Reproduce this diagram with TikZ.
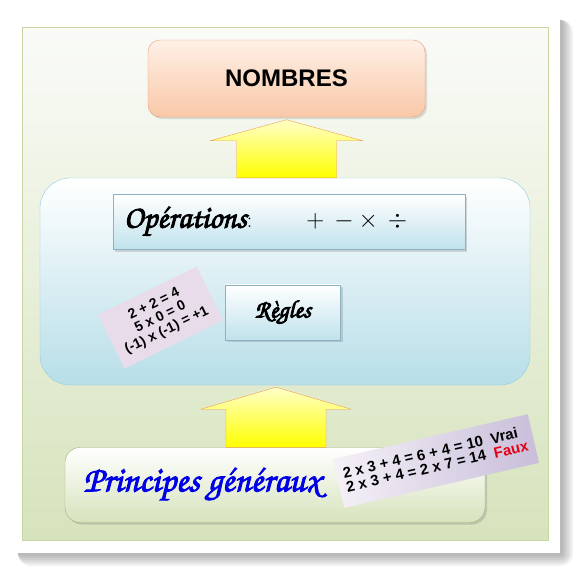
\documentclass[tikz,border=0pt]{standalone}
\usepackage[T1]{fontenc}
\usepackage{fontspec}
\setsansfont{Liberation Sans}
\usetikzlibrary{calc,positioning,shadows}

\definecolor{panneautop}{RGB}{250,251,248}
\definecolor{panneaubot}{RGB}{214,227,188}
\definecolor{panneauline}{RGB}{200,214,160}
\definecolor{nombrestop}{RGB}{254,240,230}
\definecolor{nombresbot}{RGB}{249,200,168}
\definecolor{nombresline}{RGB}{228,160,120}
\definecolor{flechetop}{RGB}{255,255,200}
\definecolor{flechebot}{RGB}{255,255,0}
\definecolor{flecheline}{RGB}{240,160,80}
\definecolor{bleubot}{RGB}{183,222,232}
\definecolor{bleuline}{RGB}{146,205,220}
\definecolor{casebot}{RGB}{192,226,236}
\definecolor{caseline}{RGB}{140,178,194}
\definecolor{vertbot}{RGB}{214,227,188}
\definecolor{vertline}{RGB}{160,176,128}
\definecolor{mauve}{RGB}{232,220,235}
\definecolor{mauvebot}{RGB}{200,190,218}
\definecolor{bleuecrit}{RGB}{0,0,230}
\definecolor{rougefaux}{RGB}{230,0,20}

\newcommand{\chancery}{\fontencoding{T1}\fontfamily{pzc}\fontseries{mb}\fontshape{it}\selectfont}
% heavier strokes for the script titles
\newcommand{\gras}[1]{\special{pdf:literal direct 2 Tr 0.9 w}#1\special{pdf:literal direct 0 Tr 0.4 w}}

\begin{document}
\begin{tikzpicture}[
  x=1pt,y=-1pt,
  carte/.style     ={fill=white,minimum width=550pt,minimum height=541pt},
  panneau/.style   ={draw=panneauline,top color=panneautop,bottom color=panneaubot,
                     minimum width=526pt,minimum height=513pt},
  titre/.style     ={draw=nombresline,rounded corners=12pt,top color=nombrestop,
                     bottom color=nombresbot,minimum width=277pt,minimum height=77pt,
                     font=\sffamily\bfseries\fontsize{24}{28}\selectfont,
                     drop shadow={shadow xshift=2pt,shadow yshift=-2pt,opacity=0.25}},
  bloc/.style      ={draw=bleuline,rounded corners=30pt,top color=white,
                     bottom color=bleubot,minimum width=490pt,minimum height=207pt},
  case/.style      ={draw=caseline,top color=white,bottom color=casebot,
                     minimum height=55pt,
                     drop shadow={shadow xshift=2pt,shadow yshift=-2pt,opacity=0.3}},
  base/.style      ={draw=vertline,rounded corners=15pt,top color=white,
                     bottom color=vertbot,minimum width=420pt,minimum height=75pt,
                     drop shadow={shadow xshift=2pt,shadow yshift=-2pt,opacity=0.3}},
  fiche/.style     ={font=\sffamily\bfseries,align=center,inner sep=2pt},
  grosfleche/.style={draw=flecheline,top color=flechetop,bottom color=flechebot},
]
\useasboundingbox (0,0) rectangle (582,573);

%% ============================================================
%%  White card and shaded panel
%% ============================================================
\node[carte] (carte) at (285,282.5) {};
\foreach \k in {3,5,...,13}
  \fill[black,opacity=0.05,rounded corners=\k pt]
    ($(carte.north west)+(8,8)$) rectangle ($(carte.south east)+(\k,\k)$);
\node[carte] at (carte) {};
\node[panneau] (panneau) at (285,283.5) {};

%% ============================================================
%%  Boxes
%% ============================================================
\node[titre] (nombres) at (286.5,78.5) {NOMBRES};

\node[bloc] (calcul) at (285,281.5) {};

\node[case,text width=330pt,align=left,inner xsep=11pt] (ops) at (289,222)
      {{\fontsize{32}{34}\selectfont\chancery\gras{Op\'erations}}%
       {\fontsize{22}{26}\selectfont:}\hspace{54pt}%
       {\fontsize{24}{26}\selectfont$+$\hspace{10pt}$-$\hspace{5pt}$\times$%
        \hspace{10pt}$\div$}};
\node[case,minimum width=115pt,below=35pt of ops,xshift=-6pt] (regles)
      {\fontsize{25}{28}\selectfont\chancery\gras{R\`egles}};

\node[fiche,fill=mauve,rotate=26,minimum width=110pt,minimum height=60pt,
      font=\sffamily\bfseries\fontsize{14}{14.5}\selectfont]
      (exemples) at (160.5,317.5)
      {2 + 2 = 4\\5 x 0 = 0\\(-1) x (-1) = +1};

\node[base] (principes) at (275,485) {};
\node[anchor=west,text=bleuecrit,font=\fontsize{36}{40}\selectfont] (texte) at (80,485)
      {\chancery\gras{Principes g\'en\'eraux}};

\node[fiche,left color=mauve!40,right color=mauvebot,rotate=13,
      minimum width=200pt,minimum height=50pt,
      font=\sffamily\bfseries\fontsize{15}{16.5}\selectfont] (verif) at (436,461)
      {\begin{tabular}{@{}l@{\hspace{8pt}}l@{}}
        2 x 3 + 4 = 6 + 4 = 10 & Vrai\\[-2pt]
        2 x 3 + 4 = 2 x 7 = 14 & \textcolor{rougefaux}{Faux}
       \end{tabular}};

%% ============================================================
%%  Block arrows
%% ============================================================
\path (nombres.south) ++(0,2.5) coordinate (pointe1);
\path (pointe1 |- calcul.north) coordinate (pied1);
\draw[grosfleche] ($(pied1)+(-50,0)$) -- ($(pointe1)+(-50,21)$)
   -- ($(pointe1)+(-76,21)$) -- (pointe1) -- ($(pointe1)+(76,21)$)
   -- ($(pointe1)+(50,21)$) -- ($(pied1)+(50,0)$) -- cycle;

\path (principes.north |- calcul.south) ++(1,2) coordinate (pointe2);
\path (pointe2 |- principes.north) coordinate (pied2);
\draw[grosfleche] ($(pied2)+(-50,0)$) -- ($(pointe2)+(-50,22)$)
   -- ($(pointe2)+(-75,22)$) -- (pointe2) -- ($(pointe2)+(75,22)$)
   -- ($(pointe2)+(50,22)$) -- ($(pied2)+(50,0)$) -- cycle;
\end{tikzpicture}
\end{document}
